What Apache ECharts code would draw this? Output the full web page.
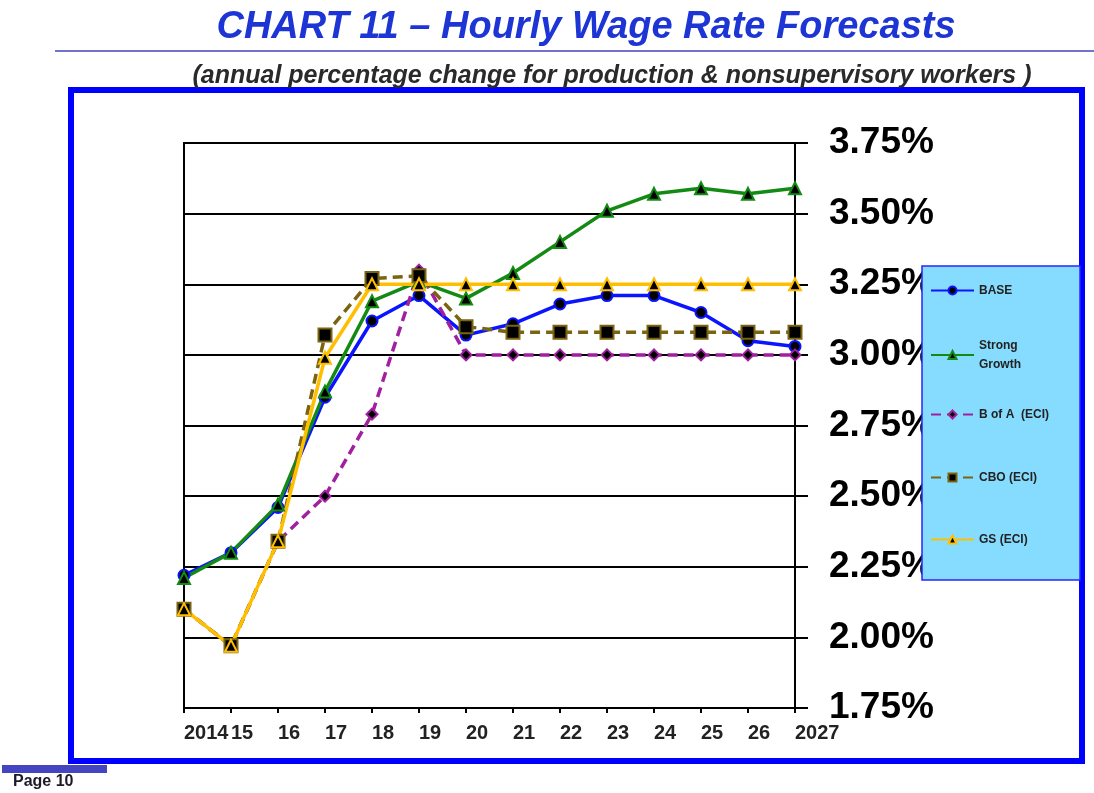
<!DOCTYPE html>
<html>
<head>
<meta charset="utf-8">
<script src="https://cdn.jsdelivr.net/npm/echarts@6/dist/echarts.min.js"></script>
<style>
html,body{margin:0;padding:0;background:#fff;}
#chart{width:1094px;height:793px;}
</style>
</head>
<body>
<div id="chart"></div>
<script>
var years = ['2014','2015','2016','2017','2018','2019','2020','2021','2022','2023','2024','2025','2026','2027'];
var yearLabels = ['2014','15','16','17','18','19','20','21','22','23','24','25','26','2027'];
var base   = [2.22, 2.30, 2.46, 2.85, 3.12, 3.21, 3.07, 3.11, 3.18, 3.21, 3.21, 3.15, 3.05, 3.03];
var strong = [2.21, 2.30, 2.47, 2.87, 3.19, 3.26, 3.20, 3.29, 3.40, 3.51, 3.57, 3.59, 3.57, 3.59];
var bofa   = [2.10, 1.97, 2.34, 2.50, 2.79, 3.30, 3.00, 3.00, 3.00, 3.00, 3.00, 3.00, 3.00, 3.00];
var cbo    = [2.10, 1.97, 2.34, 3.07, 3.27, 3.28, 3.10, 3.08, 3.08, 3.08, 3.08, 3.08, 3.08, 3.08];
var gs     = [2.10, 1.97, 2.34, 2.99, 3.25, 3.25, 3.25, 3.25, 3.25, 3.25, 3.25, 3.25, 3.25, 3.25];
var seriesNames = ['BASE', 'Strong Growth', 'B of A  (ECI)', 'CBO (ECI)', 'GS (ECI)'];
var yTicks = {min: 1.75, max: 3.75, step: 0.25};

var FONT = '"Liberation Sans", Arial, sans-serif';
var chart = echarts.init(document.getElementById('chart'), null, {renderer: 'canvas'});

function mkSeries(name, data, color, symbol, size, dashed) {
  return {
    name: name, type: 'line', data: data,
    symbol: symbol, symbolSize: size,
    lineStyle: {color: color, width: 3.5, type: dashed ? [10, 6] : 'solid'},
    itemStyle: {color: '#000', borderColor: color, borderWidth: 2},
    animation: false
  };
}

function mkLegend(name, top) {
  return {
    data: [name], left: 930, top: top, orient: 'vertical',
    itemWidth: 43, itemHeight: 10, itemGap: 0, padding: 0, z: 6,
    textStyle: {fontFamily: FONT, fontSize: 12, fontWeight: 'bold', color: '#222', lineHeight: 19},
    formatter: function (n) { return n === 'Strong Growth' ? 'Strong\nGrowth' : n; },
    selectedMode: false
  };
}

var option = {
  backgroundColor: '#fff',
  animation: false,
  grid: {left: 184, right: 299, top: 143, bottom: 85, show: true, borderColor: '#000', borderWidth: 2},
  xAxis: {
    type: 'category', data: years, boundaryGap: false,
    axisLine: {lineStyle: {color: '#000', width: 2}},
    axisTick: {show: true, length: 5, lineStyle: {color: '#000', width: 2}},
    axisLabel: {
      formatter: function (v, i) { return yearLabels[i]; },
      align: 'left', margin: 15, interval: 0,
      fontFamily: FONT, fontSize: 20, fontWeight: 'bold', color: '#222'
    },
    splitLine: {show: false}
  },
  yAxis: {
    type: 'value', position: 'right',
    min: yTicks.min, max: yTicks.max, interval: yTicks.step,
    axisLine: {show: true, lineStyle: {color: '#000', width: 2}},
    axisTick: {show: true, length: 13, lineStyle: {color: '#000', width: 2}},
    axisLabel: {
      formatter: function (v) { return v.toFixed(2) + '%'; },
      margin: 34, fontFamily: FONT, fontSize: 37, fontWeight: 'bold', color: '#000'
    },
    splitLine: {show: true, lineStyle: {color: '#000', width: 2}}
  },
  legend: [
    mkLegend(seriesNames[0], 281),
    mkLegend(seriesNames[1], 336),
    mkLegend(seriesNames[2], 405),
    mkLegend(seriesNames[3], 468),
    mkLegend(seriesNames[4], 530)
  ],
  graphic: [
    {type: 'text', x: 586, y: 28, style: {text: 'CHART 11 \u2013 Hourly Wage Rate Forecasts', font: 'italic bold 38px ' + FONT, fill: '#1c35d4', textAlign: 'center', textVerticalAlign: 'middle'}},
    {type: 'line', shape: {x1: 55, y1: 51, x2: 1094, y2: 51}, style: {stroke: '#7373cc', lineWidth: 2}},
    {type: 'text', x: 612, y: 76, style: {text: '(annual percentage change for production & nonsupervisory workers )', font: 'italic bold 25px ' + FONT, fill: '#2a2a2a', textAlign: 'center', textVerticalAlign: 'middle'}},
    {type: 'rect', shape: {x: 71, y: 90, width: 1011, height: 671}, style: {fill: 'none', stroke: '#0000ff', lineWidth: 6}, z: -1},
    {type: 'rect', shape: {x: 922, y: 266, width: 158, height: 314}, style: {fill: '#86dcff', stroke: '#2626ff', lineWidth: 1.5}, z: 5},
    {type: 'rect', shape: {x: 2, y: 765, width: 105, height: 8}, style: {fill: '#4545c2'}},
    {type: 'text', x: 13, y: 782, style: {text: 'Page 10', font: 'bold 16px ' + FONT, fill: '#1a1a2a', textVerticalAlign: 'middle'}}
  ],
  series: [
    mkSeries(seriesNames[0], base, '#0a14ff', 'circle', 11, false),
    mkSeries(seriesNames[1], strong, '#138a13', 'triangle', 12, false),
    mkSeries(seriesNames[2], bofa, '#a0209f', 'diamond', 11, true),
    mkSeries(seriesNames[3], cbo, '#7a6410', 'rect', 13, true),
    mkSeries(seriesNames[4], gs, '#ffbf00', 'triangle', 12, false)
  ]
};
chart.setOption(option);
</script>
</body>
</html>
